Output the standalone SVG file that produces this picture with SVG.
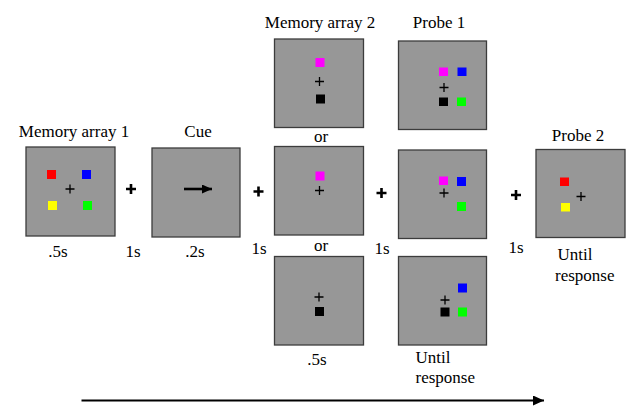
<svg xmlns="http://www.w3.org/2000/svg" width="637" height="410" viewBox="0 0 637 410">
<defs>
<marker id="ah" markerWidth="10" markerHeight="9" refX="10" refY="4.5" orient="auto" markerUnits="userSpaceOnUse">
<path d="M0,0 L10,4.5 L0,9 Z" fill="#000"/>
</marker>
<marker id="ah2" markerWidth="12" markerHeight="10" refX="11" refY="5" orient="auto" markerUnits="userSpaceOnUse">
<path d="M0,0 L11,5 L0,10 Z" fill="#000"/>
</marker>
</defs>
<style>
.box{fill:#979797;stroke:#3c3c3c;stroke-width:1.3}
.tc{text-anchor:middle}
.fx{stroke:#000;stroke-width:1.3;fill:none}
.bp{stroke:#000;stroke-width:2.6;fill:none}
</style>
<g font-family="Liberation Serif, DejaVu Serif, serif" font-size="17" fill="#000">

<g id="memory-array-1">
<text class="tc" x="74" y="137">Memory array 1</text>
<rect class="box" x="26" y="147" width="89" height="89"/>
<rect x="47" y="170" width="9" height="9" fill="#ff0000"/>
<rect x="82" y="170" width="9" height="9" fill="#0000ff"/>
<rect x="48" y="201" width="9" height="9" fill="#ffff00"/>
<rect x="83" y="201" width="9" height="9" fill="#00ff00"/>
<path class="fx" d="M65.5,189 h9 M70,184.5 v9"/>
<text class="tc" x="58" y="257">.5s</text>
</g>

<g id="isi-1">
<path class="bp" d="M126,189 h10 M131,184 v10"/>
<text class="tc" x="133" y="257">1s</text>
</g>

<g id="cue">
<text class="tc" x="198" y="137">Cue</text>
<rect class="box" x="152" y="148" width="88" height="89"/>
<line x1="184" y1="189" x2="212" y2="189" stroke="#000" stroke-width="2.6" marker-end="url(#ah)"/>
<text class="tc" x="195" y="257">.2s</text>
</g>

<g id="isi-2">
<path class="bp" d="M253.5,191.5 h10 M258.5,186.5 v10"/>
<text class="tc" x="259" y="254">1s</text>
</g>

<g id="memory-array-2-a">
<text class="tc" x="320" y="28">Memory array 2</text>
<rect class="box" x="274.5" y="39" width="89" height="88.5"/>
<rect x="315.5" y="58" width="9" height="9" fill="#ff00ff"/>
<path class="fx" d="M315,81.5 h9 M319.5,77 v9"/>
<rect x="316" y="94.5" width="9" height="9" fill="#000"/>
<text class="tc" x="321" y="142">or</text>
</g>

<g id="memory-array-2-b">
<rect class="box" x="274.5" y="146.5" width="89" height="88.5"/>
<rect x="315.5" y="171.5" width="9" height="9" fill="#ff00ff"/>
<path class="fx" d="M315,190.5 h9 M319.5,186 v9"/>
<text class="tc" x="321" y="251">or</text>
</g>

<g id="memory-array-2-c">
<rect class="box" x="274.5" y="256.5" width="89" height="88.5"/>
<path class="fx" d="M314.5,297 h9 M319,292.5 v9"/>
<rect x="315" y="307" width="9" height="9" fill="#000"/>
<text class="tc" x="317" y="365">.5s</text>
</g>

<g id="isi-3">
<path class="bp" d="M376.5,193 h10 M381.5,188 v10"/>
<text class="tc" x="382" y="254">1s</text>
</g>

<g id="probe-1-a">
<text class="tc" x="439" y="28">Probe 1</text>
<rect class="box" x="398.5" y="41" width="88" height="88.5"/>
<rect x="439" y="67.5" width="9" height="8.5" fill="#ff00ff"/>
<rect x="457.5" y="67.5" width="9" height="8.5" fill="#0000ff"/>
<path class="fx" d="M439.5,87.5 h9 M444,83 v9"/>
<rect x="439" y="97.5" width="9" height="8.5" fill="#000"/>
<rect x="457" y="97.5" width="9" height="8.5" fill="#00ff00"/>
</g>

<g id="probe-1-b">
<rect class="box" x="398.5" y="150" width="88" height="88.5"/>
<rect x="439" y="176.5" width="9" height="8.5" fill="#ff00ff"/>
<rect x="457" y="177" width="9" height="9" fill="#0000ff"/>
<path class="fx" d="M439.5,193 h9 M444,188.5 v9"/>
<rect x="457" y="202" width="9" height="9" fill="#00ff00"/>
</g>

<g id="probe-1-c">
<rect class="box" x="398.5" y="256.5" width="88" height="88.5"/>
<rect x="458" y="283.5" width="9" height="9" fill="#0000ff"/>
<path class="fx" d="M440.5,300 h9 M445,295.5 v9"/>
<rect x="440.5" y="307.5" width="9" height="9" fill="#000"/>
<rect x="458" y="307.5" width="9" height="9" fill="#00ff00"/>
<text x="415.5" y="362.5">Until</text>
<text x="415.5" y="383">response</text>
</g>

<g id="isi-4">
<path class="bp" d="M511,195 h10 M516,190 v10"/>
<text class="tc" x="516" y="253">1s</text>
</g>

<g id="probe-2">
<text class="tc" x="578" y="140.5">Probe 2</text>
<rect class="box" x="536" y="149.5" width="89" height="88"/>
<rect x="560" y="177.5" width="9" height="8.5" fill="#ff0000"/>
<rect x="561" y="203" width="9" height="8.5" fill="#ffff00"/>
<path class="fx" d="M576.5,196.5 h9 M581,192 v9"/>
<text x="557.5" y="260">Until</text>
<text x="555" y="280.5">response</text>
</g>

<g id="connectors">
<line x1="81.5" y1="400.5" x2="544" y2="400.5" stroke="#000" stroke-width="2" marker-end="url(#ah2)"/>
</g>
</g>
</svg>
